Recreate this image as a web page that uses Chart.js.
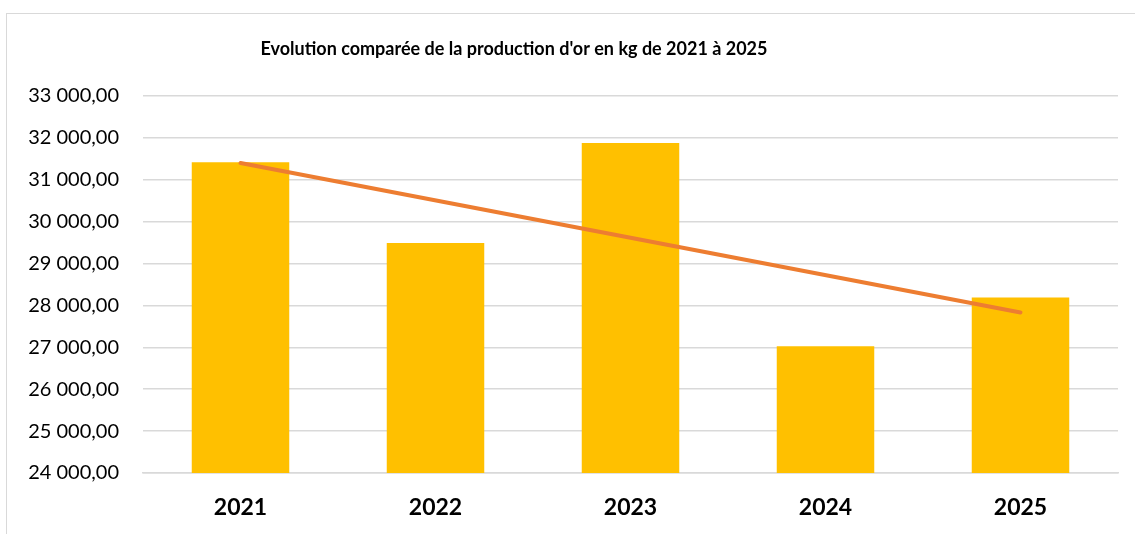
<!DOCTYPE html>
<html>
<head>
<meta charset="utf-8">
<script src="https://cdn.jsdelivr.net/npm/chart.js@4.4.1/dist/chart.umd.min.js"></script>
<style>
    html, body { margin: 0; padding: 0; background: #fff; }
    #wrap { position: relative; width: 1135px; height: 534px; overflow: hidden; }
    #frame { position: absolute; left: 6px; top: 13px; width: 1200px; height: 600px; border: 1.5px solid #d9d9d9; box-sizing: border-box; }
    #chart { position: absolute; left: 0; top: 0; }
</style>
</head>
<body>
<div id="wrap">
    <div id="frame"></div>
    <canvas id="chart" width="1135" height="534"></canvas>
</div>
<script>
var years = ['2021', '2022', '2023', '2024', '2025'];
var production = [31417, 29489, 31880, 27027, 28190];
var trend = [31400, null, null, null, 27833];
var yMin = 24000;
var yMax = 33000;
var yStep = 1000;
var titleText = "Evolution comparée de la production d'or en kg de 2021 à 2025";

var FONT = "Lato, 'Open Sans', sans-serif";

function formatFr(v) {
    var parts = Math.round(v).toString().replace(/\B(?=(\d{3})+(?!\d))/g, ' ');
    return parts + ',00';
}

// title sits left of the canvas centre in the original, so draw it by hand
var titlePlugin = {
    id: 'offsetTitle',
    afterDraw: function (c) {
        var ctx = c.ctx;
        ctx.save();
        ctx.fillStyle = '#000';
        ctx.font = "bold 18px " + FONT;
        ctx.textAlign = 'center';
        ctx.textBaseline = 'middle';
        ctx.fillText(titleText, 514, 49);
        ctx.restore();
    }
};

var chart = new Chart(document.getElementById('chart'), {
    type: 'bar',
    data: {
        labels: years,
        datasets: [
            {
                type: 'line',
                label: 'Tendance',
                data: trend,
                borderColor: '#ED7D31',
                backgroundColor: '#ED7D31',
                borderWidth: 4,
                borderCapStyle: 'round',
                pointRadius: 0,
                spanGaps: true,
                fill: false,
                order: 0
            },
            {
                label: 'Production (kg)',
                data: production,
                backgroundColor: '#FFC000',
                borderWidth: 0,
                categoryPercentage: 1,
                barPercentage: 0.5,
                order: 1
            }
        ]
    },
    plugins: [titlePlugin],
    options: {
        responsive: false,
        animation: false,
        layout: {
            padding: { left: 0, right: 17, top: 96, bottom: 0 }
        },
        plugins: {
            legend: { display: false },
            tooltip: { enabled: false },
            title: { display: false }
        },
        scales: {
            x: {
                afterFit: function (scale) { scale.height = 61; },
                grid: { display: false, drawTicks: false },
                border: { display: true, color: '#d9d9d9', width: 1.5 },
                ticks: {
                    color: '#000',
                    padding: 21,
                    font: { family: FONT, size: 23, weight: 'bold' }
                }
            },
            y: {
                min: yMin,
                max: yMax,
                afterFit: function (scale) { scale.width = 143; },
                grid: { color: '#d9d9d9', lineWidth: 1.5, drawTicks: false },
                border: { display: false },
                ticks: {
                    stepSize: yStep,
                    color: '#000',
                    padding: 24,
                    font: { family: FONT, size: 20 },
                    callback: function (v) { return formatFr(v); }
                }
            }
        }
    }
});
</script>
</body>
</html>
